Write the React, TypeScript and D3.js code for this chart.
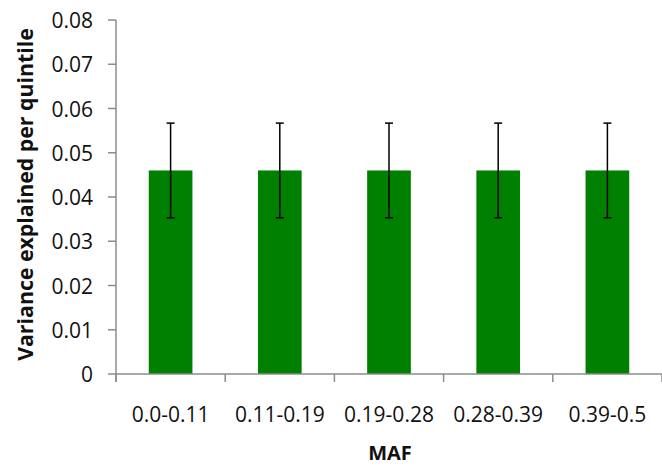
import React from "react";
import * as d3 from "d3";

const categories = ["0.0-0.11", "0.11-0.19", "0.19-0.28", "0.28-0.39", "0.39-0.5"];
const values = [0.046, 0.046, 0.046, 0.046, 0.046];
const errLow = [0.0353, 0.0353, 0.0353, 0.0353, 0.0353];
const errHigh = [0.0567, 0.0567, 0.0567, 0.0567, 0.0567];
const yTicks = [0, 0.01, 0.02, 0.03, 0.04, 0.05, 0.06, 0.07, 0.08];

const W = 662;
const H = 466;
const left = 116;
const right = 662;
const top = 20;
const bottom = 374;
const font = "'Open Sans', sans-serif";
const axisColor = "#8c8c8c";

export default function App() {
  const x = d3.scaleBand<string>().domain(categories).range([left, right]).paddingInner(0).paddingOuter(0);
  const y = d3.scaleLinear().domain([0, 0.08]).range([bottom, top]);
  const bw = x.bandwidth() * 0.4;
  const boundaries = categories.map((c) => x(c) as number).concat([right]);
  return (
    <svg width={W} height={H} style={{ position: "absolute", left: 0, top: 0, background: "#fff" }}>
      {categories.map((c, i) => {
        const cx = (x(c) as number) + x.bandwidth() / 2;
        return (
          <g key={c}>
            <rect x={cx - bw / 2} y={y(values[i])} width={bw} height={y(0) - y(values[i])} fill="#008000" />
            <line x1={cx} x2={cx} y1={y(errHigh[i])} y2={y(errLow[i])} stroke="#000" strokeWidth={1.5} />
            <line x1={cx - 4} x2={cx + 4} y1={y(errHigh[i])} y2={y(errHigh[i])} stroke="#000" strokeWidth={1.5} />
            <line x1={cx - 4} x2={cx + 4} y1={y(errLow[i])} y2={y(errLow[i])} stroke="#000" strokeWidth={1.5} />
          </g>
        );
      })}
      <line x1={left} x2={left} y1={top} y2={bottom + 8} stroke={axisColor} strokeWidth={1.5} />
      {yTicks.map((t) => (
        <g key={t}>
          <line x1={left - 8} x2={left} y1={y(t)} y2={y(t)} stroke={axisColor} strokeWidth={1.5} />
          <text x={93} y={y(t) + 8} textAnchor="end" fontFamily={font} fontSize={21} fill="#111">
            {t === 0 ? "0" : t.toFixed(2)}
          </text>
        </g>
      ))}
      <line x1={left} x2={right} y1={bottom} y2={bottom} stroke={axisColor} strokeWidth={1.5} />
      {boundaries.map((b, i) => (
        <line key={i} x1={b} x2={b} y1={bottom} y2={bottom + 8} stroke={axisColor} strokeWidth={1.5} />
      ))}
      {categories.map((c) => (
        <text key={c} x={(x(c) as number) + x.bandwidth() / 2} y={422} textAnchor="middle" fontFamily={font} fontSize={21} fill="#111">
          {c}
        </text>
      ))}
      <text x={390} y={460} textAnchor="middle" fontFamily={font} fontSize={20} fontWeight="bold" fill="#111">
        MAF
      </text>
      <text
        transform={`translate(33, 194.5) rotate(-90)`}
        textAnchor="middle"
        fontFamily={font}
        fontSize={21.3}
        fontWeight="bold"
        fill="#111"
      >
        Variance explained per quintile
      </text>
    </svg>
  );
}
